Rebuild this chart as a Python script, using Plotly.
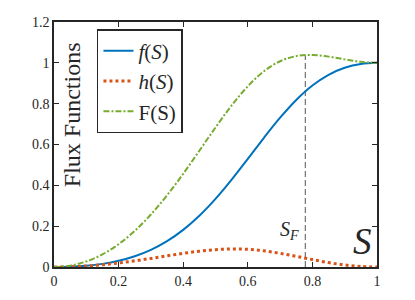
import plotly.graph_objects as go

# ---- data ----
S_vals = [0, 0.05, 0.1, 0.15, 0.2, 0.25, 0.3, 0.35, 0.4, 0.45, 0.5,
          0.55, 0.6, 0.65, 0.7, 0.75, 0.8, 0.85, 0.9, 0.95, 1.0]
f_vals = [0, 0.0014, 0.0061, 0.0153, 0.0303, 0.0526, 0.0841, 0.1266, 0.1818, 0.2508, 0.3333,
          0.4276, 0.5294, 0.6330, 0.7313, 0.8182, 0.8889, 0.9414, 0.9759, 0.9945, 1.0]
h_vals = [0, 0.0013, 0.0050, 0.0113, 0.0198, 0.0302, 0.0420, 0.0546, 0.0668, 0.0774, 0.0850,
          0.0883, 0.0864, 0.0791, 0.0671, 0.0522, 0.0363, 0.0216, 0.0100, 0.0025, 0.0]
F_vals = [0, 0.0067, 0.0269, 0.0617, 0.1117, 0.1769, 0.2572, 0.3513, 0.4567, 0.5694, 0.6833,
          0.7913, 0.8852, 0.9587, 1.0077, 1.0330, 1.0382, 1.0304, 1.0169, 1.0049, 1.0]
SF_x = [0.778, 0.778]
SF_y = [0, 1.036]

x_ticks = [0, 0.2, 0.4, 0.6, 0.8, 1]
x_ticktext = ["0", "0.2", "0.4", "0.6", "0.8", "1"]
y_ticks = [0, 0.2, 0.4, 0.6, 0.8, 1, 1.2]
y_ticktext = ["0", "0.2", "0.4", "0.6", "0.8", "1", "1.2"]

FONT = "Liberation Serif"
AX = "#262626"

fig = go.Figure()
fig.add_trace(go.Scatter(x=SF_x, y=SF_y, mode="lines", showlegend=False,
                         line=dict(color="#555555", width=1, dash="6px,3px")))
fig.add_trace(go.Scatter(x=S_vals, y=f_vals, mode="lines", name="<i>f</i>(<i>S</i>)",
                         line=dict(color="#0072BD", width=2, shape="spline")))
fig.add_trace(go.Scatter(x=S_vals, y=h_vals, mode="lines", name="<i>h</i>(<i>S</i>)",
                         line=dict(color="#D95319", width=3, dash="3px,3px", shape="spline")))
fig.add_trace(go.Scatter(x=S_vals, y=F_vals, mode="lines", name="F(S)",
                         line=dict(color="#77AC30", width=2, dash="6px,2px,2px,2px", shape="spline")))

axis_common = dict(showgrid=False, zeroline=False, showline=True, linecolor=AX, linewidth=1.5,
                   mirror="ticks", ticks="inside", ticklen=5, tickwidth=1.2, tickcolor=AX,
                   automargin=False,
                   tickfont=dict(family=FONT, size=14, color=AX))
fig.update_xaxes(range=[0, 1], tickvals=x_ticks, ticktext=x_ticktext, **axis_common)
fig.update_yaxes(range=[0, 1.2], tickvals=y_ticks, ticktext=y_ticktext, **axis_common)

fig.add_annotation(text="Flux Functions", xref="paper", yref="paper", x=0.056, y=0.62,
                   xanchor="center", yanchor="middle",
                   textangle=-90, showarrow=False, font=dict(family=FONT, size=24, color=AX))
fig.add_annotation(text="<i>S</i>", xref="paper", yref="paper", x=1, y=0.105, xanchor="right",
                   yanchor="middle", xshift=-3, showarrow=False,
                   font=dict(family=FONT, size=37, color=AX))
fig.add_annotation(text="<i>S</i><sub><i>F</i></sub>", xref="x", yref="y", x=SF_x[0], y=0.18,
                   xanchor="right", yanchor="middle", xshift=-4, showarrow=False,
                   font=dict(family=FONT, size=20, color=AX))

# page body has an 8px margin, so the figure is sized to fit inside it
fig.update_layout(
    width=399, height=284,
    margin=dict(l=46, r=30, t=14, b=25),
    paper_bgcolor="white", plot_bgcolor="white",
    legend=dict(x=0.133, y=0.971, xanchor="left", yanchor="top", xref="paper", yref="paper",
                bgcolor="white", bordercolor=AX, borderwidth=1.5,
                font=dict(family=FONT, size=21, color=AX)),
)

fig.write_html("out.html")
